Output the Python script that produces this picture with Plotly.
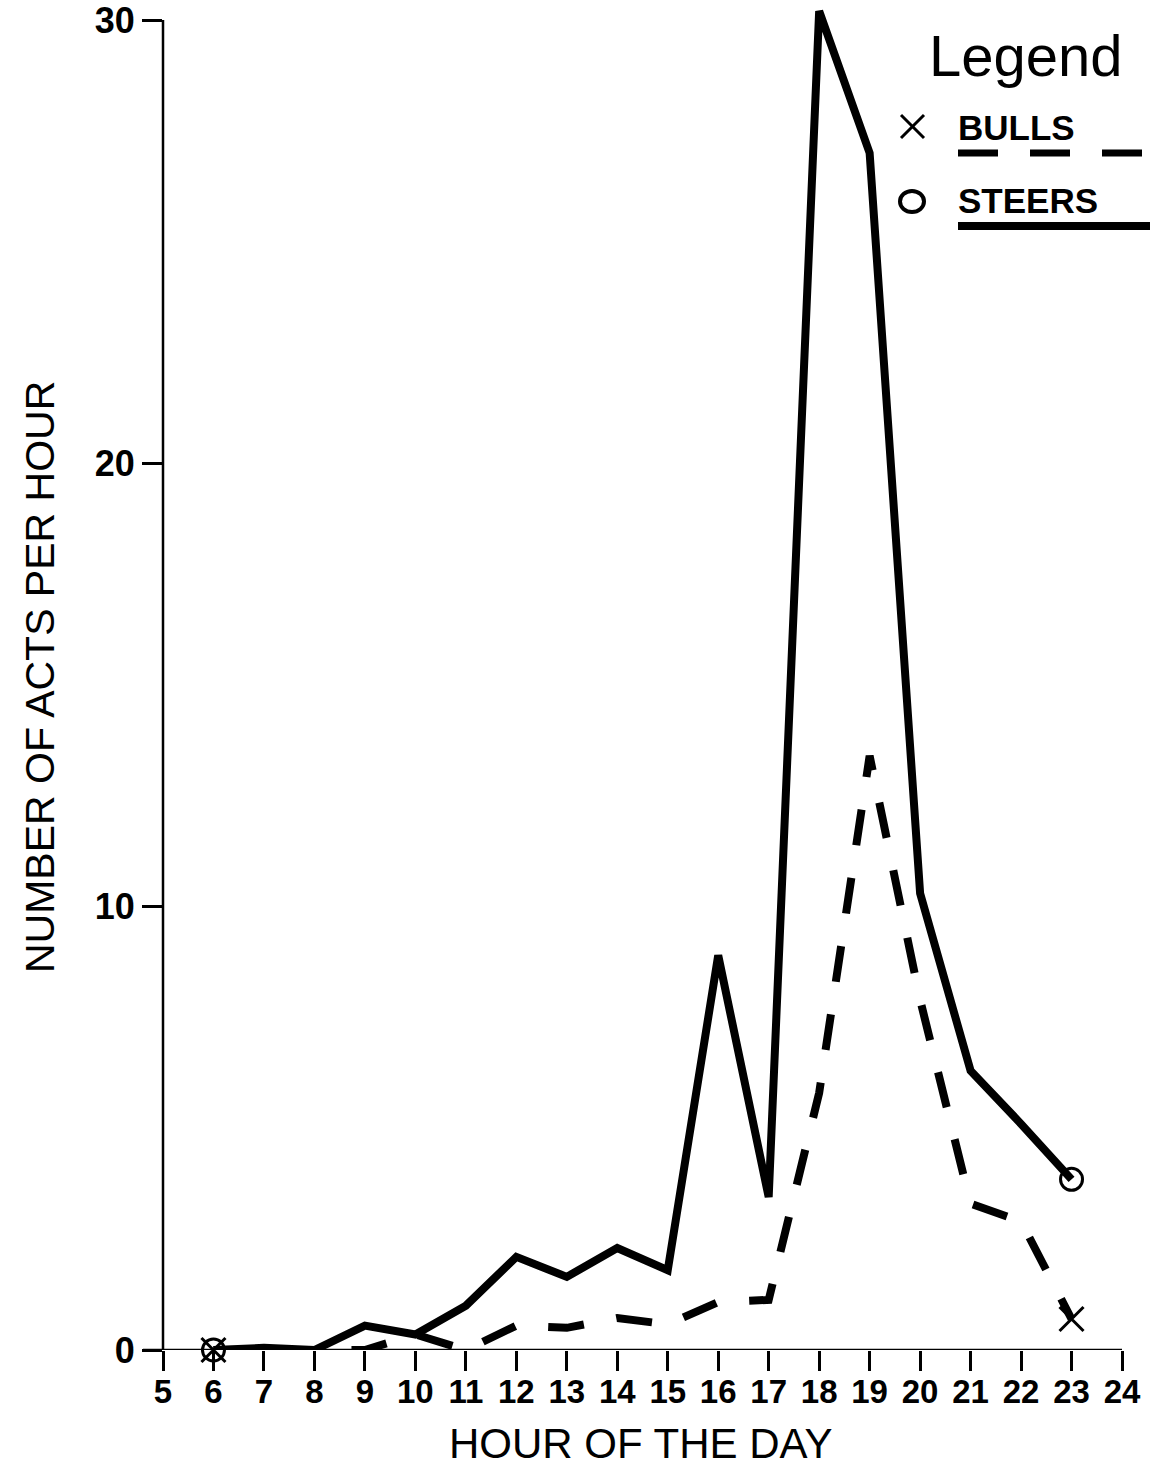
import plotly.graph_objects as go

# Hourly activity: number of acts per hour, bulls vs steers
hours = [6, 7, 8, 9, 10, 11, 12, 13, 14, 15, 16, 17, 18, 19, 20, 21, 22, 23]
steers = [0, 0.05, 0, 0.55, 0.35, 1.0, 2.1, 1.65, 2.3, 1.8, 8.9, 3.45, 30.2, 27.0, 10.3, 6.3, 5.1, 3.85]
bulls = [0, 0, 0, 0, 0.35, 0, 0.55, 0.5, 0.72, 0.58, 1.08, 1.13, 5.8, 13.4, 7.9, 3.3, 2.9, 0.7]

x_ticks = list(range(5, 25))
y_ticks = [0, 10, 20, 30]

W, H = 1156, 1479
L, R, T, B = 163, 34, 0, 129
PW, PH = W - L - R, H - T - B

BLACK = "#000000"
SANS = "Liberation Sans, Arial, sans-serif"


def px(xp):
    return (xp - L) / PW


def py(yp):
    return (H - B - yp) / PH


fig = go.Figure()

fig.add_trace(go.Scatter(
    x=hours, y=bulls, mode="lines", name="BULLS",
    line=dict(color=BLACK, width=8, dash="36px,33px"),
))
fig.add_trace(go.Scatter(
    x=hours, y=steers, mode="lines", name="STEERS",
    line=dict(color=BLACK, width=8),
))

# end-point symbols
fig.add_trace(go.Scatter(
    x=[hours[0], hours[-1]], y=[bulls[0], bulls[-1]], mode="markers",
    marker=dict(symbol="x-thin-open", size=24, color=BLACK, line=dict(color=BLACK, width=3)),
    cliponaxis=False, showlegend=False,
))
fig.add_trace(go.Scatter(
    x=[hours[0], hours[-1]], y=[steers[0], steers[-1]], mode="markers",
    marker=dict(symbol="circle-open", size=22, color=BLACK, line=dict(color=BLACK, width=3)),
    cliponaxis=False, showlegend=False,
))

shapes = [
    # y axis line from 0 to 30
    dict(type="line", xref="paper", yref="y", x0=0, x1=0, y0=0, y1=30,
         line=dict(color=BLACK, width=2.5)),
    # x axis line, extended slightly left of the y axis
    dict(type="line", xref="paper", yref="y", x0=px(143), x1=1, y0=0, y1=0,
         line=dict(color=BLACK, width=2.5)),
    # legend: cross symbol
    dict(type="line", xref="paper", yref="paper", x0=px(901), x1=px(924), y0=py(115), y1=py(138),
         line=dict(color=BLACK, width=3)),
    dict(type="line", xref="paper", yref="paper", x0=px(901), x1=px(924), y0=py(138), y1=py(115),
         line=dict(color=BLACK, width=3)),
    # legend: circle symbol
    dict(type="circle", xref="paper", yref="paper", x0=px(900), x1=px(924), y0=py(191), y1=py(212),
         line=dict(color=BLACK, width=4)),
    # legend: dashed sample under BULLS
    dict(type="line", xref="paper", yref="paper", x0=px(958), x1=px(1142), y0=py(153), y1=py(153),
         line=dict(color=BLACK, width=7, dash="40px,32px")),
    # legend: solid sample under STEERS
    dict(type="line", xref="paper", yref="paper", x0=px(958), x1=px(1150), y0=py(226), y1=py(226),
         line=dict(color=BLACK, width=8)),
]

annotations = [
    dict(text="NUMBER OF ACTS PER HOUR", xref="paper", yref="paper", x=px(40), y=py(677),
         textangle=-90, showarrow=False, xanchor="center", yanchor="middle",
         font=dict(family=SANS, size=41, color=BLACK)),
    dict(text="HOUR OF THE DAY", xref="paper", yref="paper", x=px(640), y=py(1443),
         showarrow=False, xanchor="center", yanchor="middle",
         font=dict(family=SANS, size=42, color=BLACK)),
    dict(text="Legend", xref="paper", yref="paper", x=px(1026), y=py(55),
         showarrow=False, xanchor="center", yanchor="middle",
         font=dict(family=SANS, size=58, color=BLACK)),
    dict(text="<b>BULLS</b>", xref="paper", yref="paper", x=px(956), y=py(128),
         showarrow=False, xanchor="left", yanchor="middle",
         font=dict(family=SANS, size=35, color=BLACK)),
    dict(text="<b>STEERS</b>", xref="paper", yref="paper", x=px(956), y=py(201),
         showarrow=False, xanchor="left", yanchor="middle",
         font=dict(family=SANS, size=35, color=BLACK)),
]

fig.update_layout(
    width=W, height=H,
    margin=dict(l=L, r=R, t=T, b=B, pad=0),
    paper_bgcolor="white", plot_bgcolor="white",
    showlegend=False,
    shapes=shapes,
    annotations=annotations,
    xaxis=dict(
        range=[5, 24], tickmode="array", tickvals=x_ticks, ticktext=[str(v) for v in x_ticks],
        showgrid=False, zeroline=False, showline=False,
        ticks="outside", ticklen=20, tickwidth=2.5, tickcolor=BLACK,
        ticklabelstandoff=-8,
        tickfont=dict(family=SANS, size=33, color=BLACK, weight="bold"),
    ),
    yaxis=dict(
        range=[0, 30 + 20 / (1330 / 30)], tickmode="array", tickvals=y_ticks,
        ticktext=[str(v) for v in y_ticks],
        showgrid=False, zeroline=False, showline=False,
        ticks="outside", ticklen=20, tickwidth=2.5, tickcolor=BLACK,
        ticklabeloverflow="allow",
        tickfont=dict(family=SANS, size=36, color=BLACK, weight="bold"),
    ),
)

fig.write_html("out.html")
